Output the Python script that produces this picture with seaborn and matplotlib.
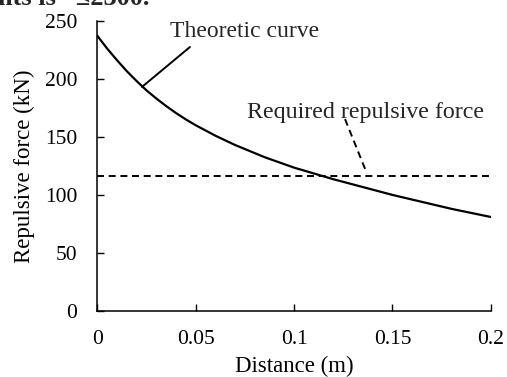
import numpy as np
import pandas as pd
import matplotlib
matplotlib.use("Agg")
import matplotlib.pyplot as plt
import seaborn as sns

# ── DATA ──────────────────────────────────────────────────────────────────────
distance = [0.000, 0.005, 0.010, 0.015, 0.020, 0.025, 0.030, 0.035, 0.040,
            0.045, 0.050, 0.055, 0.060, 0.065, 0.070, 0.075, 0.080, 0.085,
            0.090, 0.095, 0.100, 0.110, 0.120, 0.130, 0.140, 0.150, 0.160,
            0.170, 0.180, 0.190, 0.200]
force    = [237, 226, 216, 206.5, 198, 190, 183, 176.5, 170.5,
            165, 160, 155.5, 151, 147, 143, 139.5, 136, 132.5,
            129.5, 126.5, 123.5, 118.5, 113.5, 109, 104.5, 100, 96,
            92, 88, 84.5, 81]
required_force = 116
x_ticks = [0, 0.05, 0.1, 0.15, 0.2]
x_tick_labels = ["0", "0.05", "0.1", "0.15", "0.2"]
y_ticks = [0, 50, 100, 150, 200, 250]

df = pd.DataFrame({"Distance": distance, "Force": force})

# ── STYLE ─────────────────────────────────────────────────────────────────────
sns.set_theme(style="ticks")
plt.rcParams["font.family"] = ["Liberation Serif", "DejaVu Serif"]

fig = plt.figure(figsize=(5.07, 3.77), dpi=100)
ax = fig.add_axes([0.192, 0.175, 0.776, 0.770])

sns.lineplot(data=df, x="Distance", y="Force", color="black", lw=1.6, ax=ax,
             solid_joinstyle="round", solid_capstyle="round")
ax.axhline(required_force, color="black", lw=1.4, dashes=(3.6, 2.4))

ax.set_xlim(0, 0.2)
ax.set_ylim(0, 250)
ax.set_xticks(x_ticks)
ax.set_xticklabels(x_tick_labels)
ax.set_yticks(y_ticks)
ax.tick_params(direction="in", length=5, width=1, colors="black",
               labelsize=15.5)
ax.tick_params(axis="x", pad=13.5)
ax.tick_params(axis="y", pad=14.5)
for s in ["top", "right"]:
    ax.spines[s].set_visible(False)
for s in ["left", "bottom"]:
    ax.spines[s].set_linewidth(1.1)
    ax.spines[s].set_color("black")

ax.set_xlabel("Distance (m)", fontsize=16.5, color="black", labelpad=5)
ax.set_ylabel("Repulsive force (kN)", fontsize=16.5, color="black", labelpad=7)

# annotations with leader lines
ax.text(0.037, 236, "Theoretic curve", fontsize=17, ha="left", va="baseline")
ax.plot([0.0227, 0.0471], [193, 227.4], color="black", lw=1.4)
ax.text(0.076, 166, "Required repulsive force", fontsize=17.3,
        ha="left", va="baseline")
ax.plot([0.1259, 0.137], [165.3, 118.6], color="black", lw=1.4,
        dashes=(3.6, 2.4))

# clipped line of surrounding page text
fig.text(-0.004, 0.987, "nts is   \u22642300.", fontsize=19, fontweight="bold",
         ha="left", va="baseline")

fig.savefig("out.png", dpi=100)
